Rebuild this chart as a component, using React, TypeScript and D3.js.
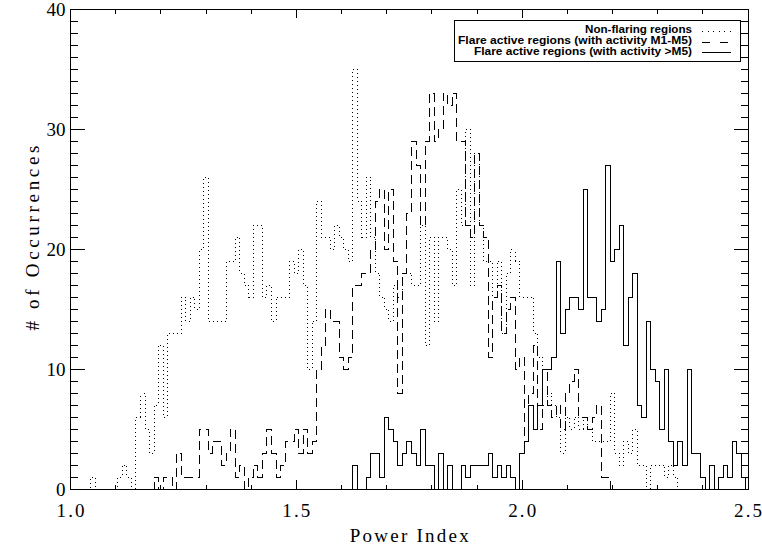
import React from 'react';
import * as d3 from 'd3';

// ---- data -------------------------------------------------------------
const binStart = 1.0;
const binWidth = 0.01;
const xTicksMajor = [1.0, 1.5, 2.0, 2.5];
const xTickLabels = ['1.0', '1.5', '2.0', '2.5'];
const yTicksMajor = [0, 10, 20, 30, 40];
const legendLabels = [
  'Non-flaring regions',
  'Flare active regions (with activity M1-M5)',
  'Flare active regions (with activity >M5)',
];

// Non-flaring regions (dotted), one value per 0.01 bin from 1.00 to 2.50
const nonFlaring = [
  0, 0, 0, 0, 0, 1, 0, 0, 0, 0,
  0, 1, 2, 1, 0, 6, 8, 5, 3, 7,
  12, 6, 13, 13, 13, 16, 14, 16, 15, 20,
  26, 14, 14, 14, 14, 19, 19, 21, 18, 17,
  16, 22, 22, 16, 17, 14, 16, 16, 16, 19,
  18, 20, 17, 10, 14, 24, 21, 21, 20, 22,
  21, 20, 19, 35, 24, 21, 26, 21, 18, 16,
  15, 14, 17, 16, 18, 18, 17, 17, 22, 12,
  21, 14, 21, 21, 20, 17, 25, 22, 30, 17,
  28, 22, 19, 19, 16, 19, 13, 18, 20, 19,
  16, 16, 16, 13, 11, 7, 8, 7, 6, 3,
  6, 5, 6, 5, 6, 5, 4, 4, 4, 4,
  8, 3, 2, 4, 3, 5, 2, 2, 0, 2,
  2, 2, 1, 2, 1, 0, 0, 0, 0, 0,
  0, 0, 0, 0, 0, 0, 0, 0, 0, 0,
  0,
];

// Flare active regions M1-M5 (dashed)
const flareM1M5 = [
  0, 0, 0, 0, 0, 0, 0, 0, 0, 0,
  0, 0, 0, 0, 0, 0, 0, 0, 0, 1,
  0, 1, 1, 0, 3, 1, 1, 1, 1, 5,
  5, 3, 4, 4, 2, 3, 5, 1, 2, 0,
  1, 2, 1, 3, 5, 3, 1, 2, 4, 4,
  5, 3, 5, 3, 4, 10, 12, 15, 14, 14,
  11, 10, 11, 17, 17, 18, 18, 20, 24, 25,
  20, 25, 19, 8, 18, 23, 29, 27, 22, 29,
  33, 29, 30, 33, 32, 33, 29, 29, 22, 21,
  28, 22, 21, 11, 16, 17, 13, 15, 16, 10,
  11, 4, 8, 12, 5, 10, 7, 6, 7, 5,
  8, 9, 10, 6, 6, 5, 6, 7, 1, 1,
  0, 0, 0, 0, 0, 0, 0, 0, 0, 0,
  0, 0, 0, 0, 0, 0, 0, 0, 0, 0,
  0, 0, 0, 0, 0, 0, 0, 0, 0, 0,
  0,
];

// Flare active regions >M5 (solid)
const flareAboveM5 = [
  0, 0, 0, 0, 0, 0, 0, 0, 0, 0,
  0, 0, 0, 0, 0, 0, 0, 0, 0, 0,
  0, 0, 0, 0, 0, 0, 0, 0, 0, 0,
  0, 0, 0, 0, 0, 0, 0, 0, 0, 0,
  0, 0, 0, 0, 0, 0, 0, 0, 0, 0,
  0, 0, 0, 0, 0, 0, 0, 0, 0, 0,
  0, 0, 0, 2, 0, 0, 1, 3, 3, 1,
  6, 5, 4, 2, 3, 4, 3, 2, 5, 2,
  2, 0, 3, 0, 2, 0, 0, 2, 1, 2,
  2, 2, 2, 3, 1, 2, 1, 2, 1, 0,
  3, 4, 7, 5, 7, 10, 10, 11, 19, 13,
  15, 16, 16, 15, 25, 16, 16, 14, 15, 27,
  19, 20, 22, 12, 16, 18, 7, 6, 14, 10,
  9, 5, 10, 4, 2, 4, 2, 10, 3, 3,
  1, 0, 2, 0, 1, 2, 1, 4, 3, 1,
  0,
];

// ---- layout -------------------------------------------------------------
const W = 762;
const H = 546;
const plot = { left: 70.5, right: 748, top: 9.3, bottom: 489 };

const x = d3.scaleLinear().domain([1.0, 2.5]).range([plot.left, plot.right]);
const y = d3.scaleLinear().domain([0, 40]).range([plot.bottom, plot.top]);

function stepPath(values: number[]): string {
  const pts: [number, number][] = values.map((v, i) => [binStart + i * binWidth - binWidth / 2, v]);
  pts.push([binStart + (values.length - 1) * binWidth + binWidth / 2, values[values.length - 1]]);
  const line = d3
    .line<[number, number]>()
    .x((d) => x(d[0]))
    .y((d) => y(d[1]))
    .curve(d3.curveStepAfter);
  return line(pts) || '';
}

const series = [
  { values: nonFlaring, dash: '1,3', legendDash: '1,4.5' },
  { values: flareM1M5, dash: '9,5', legendDash: '8,10' },
  { values: flareAboveM5, dash: undefined as string | undefined, legendDash: undefined as string | undefined },
];

export default function App() {
  const xMinor = d3.range(10, 26).map((v) => v / 10);
  const yMinor = d3.range(0, 41);
  const axisFont = 'Liberation Serif, Times New Roman, serif';
  const legFont = 'Liberation Sans, Arial, sans-serif';

  const legendY = [33, 44, 54.5];
  const legendLineY = [31.5, 42, 52];
  const legendLen = [107, 234, 218];

  return (
    <div style={{ position: 'fixed', left: 0, top: 0, width: W, height: H, background: '#fff' }}>
      <svg width={W} height={H} viewBox={`0 0 ${W} ${H}`} style={{ display: 'block' }}>
        <rect x={0} y={0} width={W} height={H} fill="#fff" />
        <defs>
          <clipPath id="plotClip">
            <rect x={plot.left} y={plot.top} width={plot.right - plot.left} height={plot.bottom - plot.top} />
          </clipPath>
        </defs>

        {/* series */}
        <g clipPath="url(#plotClip)">
          {series.map((s, i) => (
            <path
              key={i}
              d={stepPath(s.values)}
              fill="none"
              stroke="#000"
              strokeWidth={1}
              strokeDasharray={s.dash}
              shapeRendering="crispEdges"
            />
          ))}
        </g>

        {/* frame */}
        <rect
          x={plot.left}
          y={plot.top}
          width={plot.right - plot.left}
          height={plot.bottom - plot.top}
          fill="none"
          stroke="#000"
          strokeWidth={1}
          shapeRendering="crispEdges"
        />

        {/* ticks */}
        <g stroke="#000" strokeWidth={1} shapeRendering="crispEdges">
          {xMinor.map((v) => {
            const major = xTicksMajor.some((m) => Math.abs(m - v) < 1e-6);
            const len = major ? 9 : 4.5;
            const xp = x(v);
            return (
              <g key={'xt' + v}>
                <line x1={xp} x2={xp} y1={plot.bottom} y2={plot.bottom - len} />
                <line x1={xp} x2={xp} y1={plot.top} y2={plot.top + len} />
              </g>
            );
          })}
          {yMinor.map((v) => {
            const major = yTicksMajor.includes(v);
            const len = major ? 14 : 7;
            const yp = y(v);
            return (
              <g key={'yt' + v}>
                <line x1={plot.left} x2={plot.left + len} y1={yp} y2={yp} />
                <line x1={plot.right} x2={plot.right - len} y1={yp} y2={yp} />
              </g>
            );
          })}
        </g>

        {/* tick labels */}
        <g fontFamily={axisFont} fontSize={19} fill="#000">
          {xTicksMajor.map((v, i) => (
            <text key={'xl' + v} x={x(v)} y={517} textAnchor="middle" textLength={28} lengthAdjust="spacing">
              {xTickLabels[i]}
            </text>
          ))}
          {yTicksMajor.map((v) => (
            <text key={'yl' + v} x={plot.left - 5} y={y(v) + 6.5} textAnchor="end">
              {v}
            </text>
          ))}
        </g>

        {/* axis titles */}
        <text
          x={(plot.left + plot.right) / 2}
          y={542}
          textAnchor="middle"
          fontFamily={axisFont}
          fontSize={19}
          textLength={119}
          lengthAdjust="spacing"
        >
          Power Index
        </text>
        <text
          transform={`translate(39, ${238}) rotate(-90)`}
          textAnchor="middle"
          fontFamily={axisFont}
          fontSize={19}
          textLength={185}
          lengthAdjust="spacing"
        >
          # of Occurrences
        </text>

        {/* legend */}
        <rect x={454.5} y={20.5} width={286} height={40.5} fill="#fff" stroke="#000" strokeWidth={1} shapeRendering="crispEdges" />
        {legendLabels.map((lab, i) => (
          <g key={'lg' + i}>
            <text
              x={692}
              y={legendY[i]}
              textAnchor="end"
              fontFamily={legFont}
              fontWeight="bold"
              fontSize={10}
              textLength={legendLen[i]}
              lengthAdjust="spacingAndGlyphs"
            >
              {lab}
            </text>
            <line
              x1={702}
              x2={731}
              y1={legendLineY[i]}
              y2={legendLineY[i]}
              stroke="#000"
              strokeWidth={1}
              strokeDasharray={series[i].legendDash}
              shapeRendering="crispEdges"
            />
          </g>
        ))}
      </svg>
    </div>
  );
}
